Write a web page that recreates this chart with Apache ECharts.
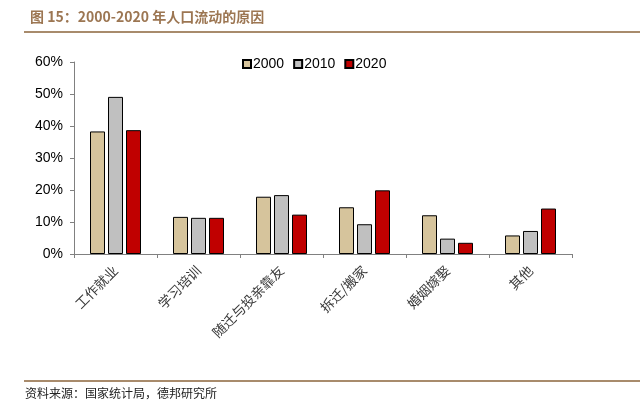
<!DOCTYPE html>
<html>
<head>
<meta charset="utf-8">
<script src="https://cdn.jsdelivr.net/npm/echarts@6/dist/echarts.min.js"></script>
<style>html,body{margin:0;padding:0;background:#fff;}#c{width:642px;height:410px;}</style>
</head>
<body>
<div id="c"></div>
<script>
var categories = ['工作就业', '学习培训', '随迁与投亲靠友', '拆迁/搬家', '婚姻嫁娶', '其他'];
var years = ['2000', '2010', '2020'];
var v2000 = [38.3, 11.6, 17.9, 14.6, 12.1, 5.8];
var v2010 = [49.1, 11.3, 18.4, 9.3, 4.8, 7.2];
var v2020 = [38.7, 11.3, 12.3, 19.9, 3.5, 14.2];
var yTicks = [0, 10, 20, 30, 40, 50, 60];
var colors = ['#d6c49c', '#c0c0c0', '#c00000'];

var chart = echarts.init(document.getElementById('c'));
function mk(name, data, color) {
  return {
    name: name, type: 'bar', data: data, barWidth: 15, barGap: '20%',
    itemStyle: { color: color, borderColor: '#000', borderWidth: 1 }
  };
}
chart.setOption({
  animation: false,
  title: {
    text: '图 15：2000-2020 年人口流动的原因',
    left: 25, top: 5,
    textStyle: { fontSize: 14, fontWeight: 'bold', color: '#9c7652', fontFamily: 'Noto Sans CJK SC' }
  },
  graphic: [
    { type: 'rect', shape: { x: 24, y: 31, width: 616, height: 2 }, style: { fill: '#a88b6c' } },
    { type: 'rect', shape: { x: 24, y: 380, width: 616, height: 2 }, style: { fill: '#a88b6c' } },
    { type: 'text', left: 25, top: 387, style: { text: '资料来源：国家统计局，德邦研究所', fontSize: 12, fill: '#222', fontFamily: 'Noto Sans CJK SC' } }
  ],
  legend: {
    data: years, left: 237, top: 52, itemWidth: 8, itemHeight: 8, itemGap: 9, icon: 'rect',
    textStyle: { fontSize: 14, color: '#000', fontFamily: 'Liberation Sans', padding: [0, 0, 0, -3] }
  },
  grid: { left: 74, right: 70, top: 62, bottom: 156 },
  xAxis: {
    type: 'category', data: categories,
    axisLine: { lineStyle: { color: '#808080', width: 1 } },
    axisTick: { show: true, length: 4, alignWithLabel: false, lineStyle: { color: '#808080' } },
    axisLabel: { rotate: 45, interval: 0, margin: 14, fontSize: 13.5, color: '#3a3a3a', fontFamily: 'Noto Sans CJK SC' }
  },
  yAxis: {
    type: 'value', min: 0, max: 60, interval: 10,
    axisLine: { show: true, lineStyle: { color: '#808080' } },
    axisTick: { show: true, length: 4, lineStyle: { color: '#808080' } },
    splitLine: { show: false },
    axisLabel: {
      fontSize: 14, color: '#000', fontFamily: 'Liberation Sans', margin: 11,
      formatter: function (v) { return yTicks.indexOf(v) >= 0 ? v + '%' : ''; }
    }
  },
  series: [mk(years[0], v2000, colors[0]), mk(years[1], v2010, colors[1]), mk(years[2], v2020, colors[2])]
});
</script>
</body>
</html>
